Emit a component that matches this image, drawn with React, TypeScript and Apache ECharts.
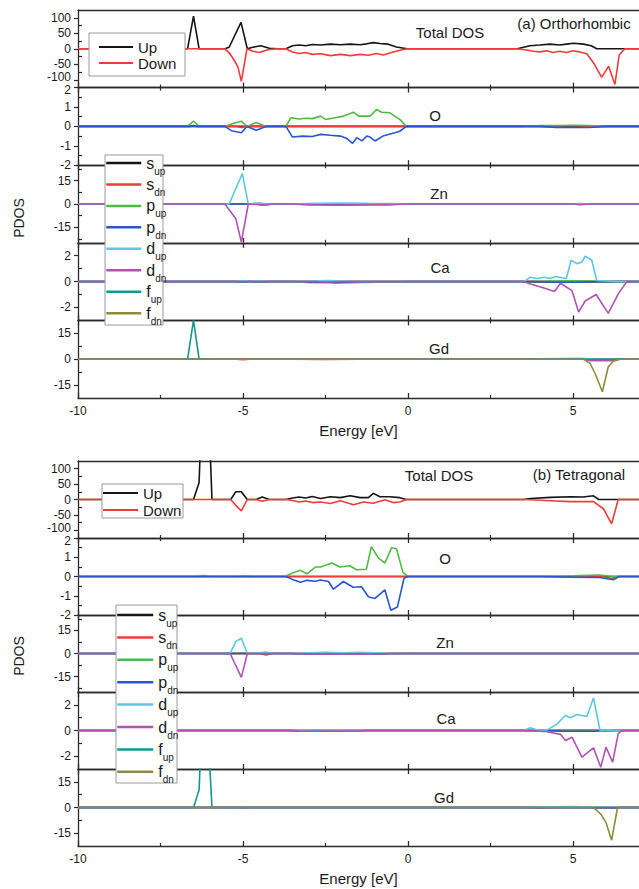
import React, { useEffect, useRef } from 'react';
import * as echarts from 'echarts';

type Pt = [number, number];

// ---------- axis ticks ----------
const energyTicks = [-10, -5, 0, 5];
const energyMinorTicks = [-7.5, -2.5, 2.5];
const totalTicks = [-100, -50, 0, 50, 100];
const totalMinor = [-75, -25, 25, 75];
const oTicks = [-2, -1, 0, 1, 2];
const oMinor = [-1.5, -0.5, 0.5, 1.5];
const znTicks = [-15, 0, 15];
const znMinor = [-22.5, -7.5, 7.5, 22.5];
const caTicks = [-2, 0, 2];
const caMinor = [-1, 1];
const gdTicks = [-15, 0, 15];
const gdMinor = [-7.5, 7.5];

// ---------- panel (a) Orthorhombic ----------
const aTotalUp: Pt[] = [[-10,0],[-6.68,0],[-6.5,105],[-6.33,0],[-5.55,0],[-5.42,5],[-5.06,85],[-4.87,0],[-4.7,5],[-4.46,10],[-4.2,2],[-3.95,0],[-3.7,0],[-3.5,10],[-3.3,12],[-3.1,10],[-2.9,14],[-2.65,12],[-2.35,15],[-2.05,13],[-1.75,15],[-1.45,13],[-1.25,16],[-1.05,20],[-0.85,17],[-0.6,15],[-0.35,6],[-0.03,0],[3.31,0],[3.7,10],[4.0,12],[4.3,15],[4.6,12],[4.8,15],[5.02,18],[5.32,15],[5.55,10],[5.72,0],[7,0]];
const aTotalDown: Pt[] = [[-10,0],[-5.55,0],[-5.4,-15],[-5.25,-40],[-5.15,-60],[-5.05,-105],[-4.88,0],[-4.7,-8],[-4.5,-12],[-4.25,-3],[-4.0,0],[-3.7,0],[-3.5,-10],[-3.3,-15],[-3.1,-12],[-2.9,-18],[-2.65,-16],[-2.35,-22],[-2.05,-18],[-1.75,-22],[-1.45,-18],[-1.2,-21],[-0.95,-15],[-0.75,-20],[-0.5,-12],[-0.3,-6],[-0.03,0],[3.3,0],[3.6,-4],[3.8,-8],[4.0,-10],[4.2,-6],[4.4,-12],[4.6,-8],[4.8,-12],[5.0,-6],[5.2,-10],[5.42,-16],[5.65,-50],[5.87,-92],[6.08,-56],[6.27,-115],[6.4,-20],[6.57,0],[7,0]];

const aO_sUp: Pt[] = [[-10,0],[-6.6,0],[-6.5,0.05],[-6.4,0],[7,0]];
const aO_sDn: Pt[] = [[-10,0],[-5.2,0],[-5.05,-0.05],[-4.9,0],[4,0],[5,-0.04],[5.8,0],[7,0]];
const aO_pUp: Pt[] = [[-10,0],[-6.68,0],[-6.5,0.28],[-6.33,0],[-5.55,0],[-5.3,0.15],[-5.05,0.27],[-4.88,0],[-4.6,0.2],[-4.3,0],[-3.7,0],[-3.55,0.45],[-3.3,0.38],[-3.1,0.42],[-2.9,0.4],[-2.65,0.53],[-2.5,0.36],[-2.25,0.43],[-1.95,0.53],[-1.65,0.73],[-1.5,0.53],[-1.15,0.53],[-0.95,0.87],[-0.8,0.73],[-0.55,0.7],[-0.25,0.36],[-0.05,0],[3.5,0],[4,0.05],[4.5,0.04],[5,0.06],[5.5,0.05],[6,0],[7,0]];
const aO_pDn: Pt[] = [[-10,0],[-5.55,0],[-5.35,-0.22],[-5.05,-0.33],[-4.88,0],[-4.6,-0.2],[-4.3,0],[-3.7,0],[-3.5,-0.55],[-3.2,-0.5],[-2.9,-0.52],[-2.65,-0.41],[-2.35,-0.46],[-2.05,-0.5],[-1.85,-0.63],[-1.68,-0.87],[-1.55,-0.58],[-1.4,-0.75],[-1.25,-0.5],[-1.15,-0.55],[-1.0,-0.75],[-0.76,-0.5],[-0.4,-0.33],[-0.25,-0.25],[-0.05,0],[4,0],[4.5,-0.05],[5,-0.04],[5.5,-0.06],[6,0],[7,0]];

const aZn_sUp: Pt[] = [[-10,0],[7,0]];
const aZn_sDn: Pt[] = [[-10,0],[-4.6,0],[-4.4,-0.8],[-4.2,0],[7,0]];
const aZn_pUp: Pt[] = [[-10,0],[-5.3,0],[-5.05,0.3],[-4.85,0],[-4.5,0.4],[-4.2,0],[7,0]];
const aZn_pDn: Pt[] = [[-10,0],[-3.6,0],[-3.0,-0.4],[-2.4,-0.3],[-1.8,-0.5],[-1.2,-0.3],[-0.6,-0.4],[-0.1,0],[7,0]];
const aZn_dUp: Pt[] = [[-10,0],[-5.42,0],[-5.02,19.6],[-4.84,0],[-4.5,0.6],[-4.3,0],[-3.5,0],[-2.8,0.4],[-2.0,0.6],[-1.2,0.4],[-0.5,0.3],[0,0],[5,0],[5.2,0.3],[5.5,0],[7,0]];
const aZn_dDn: Pt[] = [[-10,0],[-5.55,0],[-5.22,-9.3],[-5.05,-24.6],[-4.84,0],[-4.6,-0.3],[-4.3,-0.8],[-4.1,0],[-3.5,0],[-2.8,-0.5],[-2.0,-0.7],[-1.2,-0.4],[-0.5,-0.3],[0,0],[5,0],[5.2,-0.4],[5.5,0],[7,0]];

const aCa_sUp: Pt[] = [[-10,0],[7,0]];
const aCa_sDn: Pt[] = [[-10,0],[-2.5,0],[-2.2,-0.08],[-1.8,0],[7,0]];
const aCa_pUp: Pt[] = [[-10,0],[3.8,0],[4.3,0.05],[5.0,0.06],[5.6,0.05],[5.8,0],[7,0]];
const aCa_pDn: Pt[] = [[-10,0],[-3.5,0],[-3.0,-0.06],[-2.0,-0.08],[-1.0,-0.05],[0,0],[3.8,0],[4.5,-0.05],[5.2,-0.05],[5.8,0],[7,0]];
const aCa_dUp: Pt[] = [[-10,0],[-5.2,0],[-5.0,0.08],[-4.8,0],[-4.5,0.06],[-4.2,0],[-3.2,0],[-2.8,0.06],[-2.4,0.08],[-2.0,0.05],[-1.6,0],[3.51,0],[3.71,0.34],[3.91,0.24],[4.12,0.34],[4.32,0.24],[4.47,0.4],[4.67,0.3],[4.8,0.24],[4.94,1.65],[5.12,1.39],[5.27,1.52],[5.37,1.96],[5.57,1.65],[5.72,0.08],[6.33,0],[7,0]];
const aCa_dDn: Pt[] = [[-10,0],[-2.8,0],[-2.5,-0.05],[-2.1,0],[3.5,0],[3.71,-0.18],[4.12,-0.5],[4.44,-0.76],[4.62,-0.13],[4.97,-0.7],[5.17,-2.35],[5.37,-1.5],[5.7,-1.0],[6.07,-2.46],[6.37,-0.95],[6.63,0],[7,0]];

const aGd_sUp: Pt[] = [[-10,0],[7,0]];
const aGd_sDn: Pt[] = [[-10,0],[-5.2,0],[-5.0,-0.3],[-4.8,0],[-3.5,0],[-2.5,-0.2],[-1.5,0],[7,0]];
const aGd_pUp: Pt[] = [[-10,0],[7,0]];
const aGd_pDn: Pt[] = [[-10,0],[5.4,0],[5.7,-0.3],[6.2,-0.3],[6.4,0],[7,0]];
const aGd_dUp: Pt[] = [[-10,0],[3.6,0],[4.0,0.3],[4.6,0.4],[5.2,0.5],[5.5,0.2],[5.8,0],[7,0]];
const aGd_dDn: Pt[] = [[-10,0],[5.3,0],[5.5,-0.8],[6.2,-0.8],[6.4,0],[7,0]];
const aGd_fUp: Pt[] = [[-10,0],[-6.68,0],[-6.5,22.5],[-6.33,0],[7,0]];
const aGd_fDn: Pt[] = [[-10,0],[5.32,0],[5.52,-2.5],[5.67,-8.3],[5.89,-18.9],[6.07,-4.4],[6.22,-1.2],[6.42,0],[7,0]];

// ---------- panel (b) Tetragonal ----------
const bTotalUp: Pt[] = [[-10,0],[-6.5,0],[-6.33,55],[-6.22,400],[-6.08,400],[-5.94,0],[-5.37,0],[-5.22,25],[-5.05,25],[-4.87,0],[-4.6,0],[-4.42,8],[-4.2,0],[-3.7,0],[-3.5,5],[-3.3,8],[-3.1,5],[-2.9,10],[-2.65,3],[-2.35,9],[-2.05,6],[-1.75,12],[-1.45,6],[-1.2,6],[-1.05,20],[-0.85,9],[-0.55,9],[-0.25,6],[-0.05,0],[3.5,0],[3.71,3],[4.32,7],[4.92,9],[5.3,8],[5.62,12],[5.78,0],[7,0]];
const bTotalDown: Pt[] = [[-10,0],[-5.37,0],[-5.22,-19],[-5.05,-37],[-4.87,0],[-4.6,0],[-4.42,-6],[-4.2,0],[-3.7,0],[-3.5,-3],[-3.3,-8],[-3.1,-5],[-2.9,-10],[-2.65,-8],[-2.35,-13],[-2.05,-4],[-1.65,-17],[-1.35,-8],[-1.05,-12],[-0.7,-1],[-0.45,-10],[-0.25,-8],[-0.05,0],[3.5,0],[3.71,-1],[4.32,-4],[4.92,-7],[5.62,-7],[5.92,-30],[6.17,-79],[6.37,0],[7,0]];

const bO_sUp: Pt[] = [[-10,0],[7,0]];
const bO_sDn: Pt[] = [[-10,0],[5.9,0],[6.17,-0.1],[6.35,0],[7,0]];
const bO_pUp: Pt[] = [[-10,0],[-6.4,0],[-6.2,0.05],[-6.0,0],[-5.2,0],[-5.0,0.03],[-4.7,0],[-3.73,0],[-3.5,0.18],[-3.26,0.32],[-3.06,0.14],[-2.81,0.49],[-2.65,0.49],[-2.31,0.7],[-2.06,0.49],[-1.76,0.56],[-1.56,0.35],[-1.26,0.38],[-1.11,1.55],[-0.9,0.97],[-0.7,0.7],[-0.5,1.49],[-0.35,1.44],[-0.15,0.2],[0,0],[4,0],[5,0.03],[5.8,0.08],[6.2,0],[7,0]];
const bO_pDn: Pt[] = [[-10,0],[-3.7,0],[-3.5,-0.15],[-3.26,-0.3],[-3.06,-0.2],[-2.81,-0.25],[-2.65,-0.18],[-2.41,-0.26],[-2.26,-0.66],[-1.96,-0.26],[-1.66,-0.56],[-1.41,-0.53],[-1.2,-1.05],[-1.0,-1.14],[-0.7,-0.7],[-0.52,-1.75],[-0.32,-1.58],[-0.12,-0.09],[0,0],[4,0],[5,-0.03],[5.8,-0.05],[6.22,-0.17],[6.4,0],[7,0]];

const bZn_sUp: Pt[] = [[-10,0],[7,0]];
const bZn_sDn: Pt[] = [[-10,0],[-4.5,0],[-4.3,-1],[-4.1,0],[7,0]];
const bZn_pUp: Pt[] = [[-10,0],[-5.3,0],[-5.05,0.3],[-4.87,0],[7,0]];
const bZn_pDn: Pt[] = [[-10,0],[-3.6,0],[-3.0,-0.3],[-2.2,-0.4],[-1.4,-0.3],[-0.6,-0.2],[0,0],[7,0]];
const bZn_dUp: Pt[] = [[-10,0],[-5.39,0],[-5.22,7.7],[-5.05,9.9],[-4.87,0],[-4.5,0.5],[-4.3,1],[-4.1,0],[-3.5,0],[-3.0,0.5],[-2.5,0.8],[-2.0,0.5],[-1.5,0.8],[-1.0,0.4],[-0.5,0],[7,0]];
const bZn_dDn: Pt[] = [[-10,0],[-5.39,0],[-5.05,-15.5],[-4.87,0],[-3.5,0],[-2.8,-0.4],[-2.0,-0.5],[-1.2,-0.4],[-0.5,0],[7,0]];

const bCa_sUp: Pt[] = [[-10,0],[7,0]];
const bCa_sDn: Pt[] = [[-10,0],[5.8,0],[6.0,-0.06],[6.2,0],[7,0]];
const bCa_pUp: Pt[] = [[-10,0],[4.2,0],[4.6,0.05],[5.2,0.06],[5.7,0.05],[5.85,0],[7,0]];
const bCa_pDn: Pt[] = [[-10,0],[4.2,0],[4.6,-0.05],[5.2,-0.06],[5.7,-0.05],[5.85,0],[7,0]];
const bCa_dUp: Pt[] = [[-10,0],[-3.6,0],[-3.3,0.06],[-2.8,0.04],[-2.2,0.06],[-1.6,0.04],[-1.2,0],[3.5,0],[3.71,0.21],[3.96,0],[4.22,0.05],[4.52,0.52],[4.77,1.17],[4.92,0.99],[5.12,1.25],[5.42,1.09],[5.62,2.54],[5.82,0],[7,0]];
const bCa_dDn: Pt[] = [[-10,0],[-3.6,0],[-3.3,-0.05],[-2.8,-0.06],[-2.2,-0.05],[-1.6,-0.04],[-1.2,0],[3.6,0],[4.22,-0.1],[4.62,-0.3],[4.77,-0.78],[4.97,-0.52],[5.27,-2.08],[5.62,-1.35],[5.84,-2.86],[6.0,-1.3],[6.2,-2.47],[6.37,-0.26],[6.47,0],[7,0]];

const bGd_sUp: Pt[] = [[-10,0],[7,0]];
const bGd_sDn: Pt[] = [[-10,0],[-5.2,0],[-5.0,-0.3],[-4.8,0],[3.6,0],[4.0,-0.3],[4.4,0],[7,0]];
const bGd_pUp: Pt[] = [[-10,0],[7,0]];
const bGd_pDn: Pt[] = [[-10,0],[5.5,0],[5.7,-0.4],[6.3,-0.4],[6.4,0],[7,0]];
const bGd_dUp: Pt[] = [[-10,0],[3.5,0],[4.0,0.3],[4.5,0.4],[5.0,0.5],[5.5,0.3],[5.8,0],[7,0]];
const bGd_dDn: Pt[] = [[-10,0],[5.5,0],[5.7,-0.3],[6.2,-0.3],[6.4,0],[7,0]];
const bGd_fUp: Pt[] = [[-10,0],[-6.5,0],[-6.33,10.3],[-6.27,40],[-6.05,40],[-5.94,0],[7,0]];
const bGd_fDn: Pt[] = [[-10,0],[5.62,0],[5.85,-4],[6.0,-8.8],[6.17,-19.1],[6.35,0],[7,0]];

// ---------- styling / layout ----------
const FONT = '"Liberation Sans", Arial, Helvetica, sans-serif';
const TEXT = '#1a1a1a';
const AXIS = '#2b2b2b';
const COLORS: Record<string, string> = {
  Up: '#151515', Down: '#f23a3a',
  s_up: '#151515', s_dn: '#f23a3a', p_up: '#4fba45', p_dn: '#2a56c8',
  d_up: '#5cc8e2', d_dn: '#b252b2', f_up: '#16968f', f_dn: '#8c8c3c',
};
const ORBITALS = ['s_up', 's_dn', 'p_up', 'p_dn', 'd_up', 'd_dn', 'f_up', 'f_dn'];

type Sub = { label: string; min: number; max: number; ticks: number[]; minor: number[]; series: [string, Pt[]][] };

const panelA: Sub[] = [
  { label: 'Total DOS', min: -125, max: 125, ticks: totalTicks, minor: totalMinor, series: [['Up', aTotalUp], ['Down', aTotalDown]] },
  { label: 'O', min: -2, max: 2, ticks: oTicks, minor: oMinor, series: [['s_up', aO_sUp], ['s_dn', aO_sDn], ['p_up', aO_pUp], ['p_dn', aO_pDn]] },
  { label: 'Zn', min: -25, max: 25, ticks: znTicks, minor: znMinor, series: [['s_up', aZn_sUp], ['s_dn', aZn_sDn], ['p_up', aZn_pUp], ['p_dn', aZn_pDn], ['d_up', aZn_dUp], ['d_dn', aZn_dDn]] },
  { label: 'Ca', min: -3, max: 3, ticks: caTicks, minor: caMinor, series: [['s_up', aCa_sUp], ['s_dn', aCa_sDn], ['p_up', aCa_pUp], ['p_dn', aCa_pDn], ['d_up', aCa_dUp], ['d_dn', aCa_dDn]] },
  { label: 'Gd', min: -22.5, max: 22.5, ticks: gdTicks, minor: gdMinor, series: [['s_up', aGd_sUp], ['s_dn', aGd_sDn], ['p_up', aGd_pUp], ['p_dn', aGd_pDn], ['d_up', aGd_dUp], ['d_dn', aGd_dDn], ['f_up', aGd_fUp], ['f_dn', aGd_fDn]] },
];
const panelB: Sub[] = [
  { label: 'Total DOS', min: -125, max: 125, ticks: totalTicks, minor: totalMinor, series: [['Up', bTotalUp], ['Down', bTotalDown]] },
  { label: 'O', min: -2, max: 2, ticks: oTicks, minor: oMinor, series: [['s_up', bO_sUp], ['s_dn', bO_sDn], ['p_up', bO_pUp], ['p_dn', bO_pDn]] },
  { label: 'Zn', min: -25, max: 25, ticks: znTicks, minor: znMinor, series: [['s_up', bZn_sUp], ['s_dn', bZn_sDn], ['p_up', bZn_pUp], ['p_dn', bZn_pDn], ['d_up', bZn_dUp], ['d_dn', bZn_dDn]] },
  { label: 'Ca', min: -3, max: 3, ticks: caTicks, minor: caMinor, series: [['s_up', bCa_sUp], ['s_dn', bCa_sDn], ['p_up', bCa_pUp], ['p_dn', bCa_pDn], ['d_up', bCa_dUp], ['d_dn', bCa_dDn]] },
  { label: 'Gd', min: -22.5, max: 22.5, ticks: gdTicks, minor: gdMinor, series: [['s_up', bGd_sUp], ['s_dn', bGd_sDn], ['p_up', bGd_pUp], ['p_dn', bGd_pDn], ['d_up', bGd_dUp], ['d_dn', bGd_dDn], ['f_up', bGd_fUp], ['f_dn', bGd_fDn]] },
];

const layouts = [
  {
    subs: panelA, tops: [10, 87.6, 165.2, 242.8, 320.4], h: 77.6,
    title: '(a) Orthorhombic', titlePos: [574, 23],
    labelPos: [[450, 32], [435, 115], [439, 193], [440, 267], [439, 348]],
    pdosPos: [19, 218],
    udLegend: { left: 98, top: 39, w: 34, gap: 0, box: [89, 33, 96, 43] },
    orbLegend: { left: 105, top: 155, w: 35, gap: 0.45, box: [105, 155, 58, 170] },
  },
  {
    subs: panelB, tops: [461, 538, 615, 692, 769], h: 77,
    title: '(b) Tetragonal', titlePos: [579, 474],
    labelPos: [[439, 475], [445, 558], [445, 642], [446, 718], [444, 797]],
    pdosPos: [19, 656],
    udLegend: { left: 102, top: 485, w: 35, gap: 1, box: [102, 484, 81, 34] },
    orbLegend: { left: 116, top: 607, w: 36, gap: 1.4, box: [116, 605, 61, 178] },
  },
];

const LABEL_STYLE = { fontSize: 12, color: TEXT, fontFamily: FONT };

function buildOption() {
  const grid: any[] = [];
  const xAxis: any[] = [];
  const yAxis: any[] = [];
  const series: any[] = [];
  const graphic: any[] = [];
  const legend: any[] = [];

  layouts.forEach((L) => {
    L.subs.forEach((sp, k) => {
      const g = grid.length;
      const first = k === 0;
      const last = k === L.subs.length - 1;
      grid.push({ left: 78, right: -2, top: L.tops[k], height: L.h });
      const base = { type: 'value', gridIndex: g, min: -10, max: 7, splitLine: { show: false } };
      const line = { show: true, onZero: false, lineStyle: { color: AXIS, width: 1.3 } };
      const noLine = { show: false, onZero: false };
      xAxis.push({
        ...base, position: 'bottom', axisLine: line,
        axisTick: { show: true, inside: true, length: 5, customValues: energyTicks, lineStyle: { color: AXIS, width: 1.3 } },
        axisLabel: { show: last, customValues: energyTicks, ...LABEL_STYLE, margin: 7 },
        name: last ? 'Energy [eV]' : '', nameLocation: 'middle', nameGap: 25,
        nameTextStyle: { fontSize: 15, color: TEXT, fontFamily: FONT },
      });
      xAxis.push({
        ...base, position: 'bottom', axisLine: noLine,
        axisTick: { show: true, inside: true, length: 3, customValues: energyMinorTicks, lineStyle: { color: AXIS, width: 1.2 } },
        axisLabel: { show: false },
      });
      xAxis.push({
        ...base, position: 'top', axisLine: line,
        axisTick: { show: !first, inside: true, length: 5, customValues: energyTicks, lineStyle: { color: AXIS, width: 1.3 } },
        axisLabel: { show: false },
      });
      xAxis.push({
        ...base, position: 'top', axisLine: noLine,
        axisTick: { show: !first, inside: true, length: 3, customValues: energyMinorTicks, lineStyle: { color: AXIS, width: 1.2 } },
        axisLabel: { show: false },
      });
      const yBase = { type: 'value', gridIndex: g, min: sp.min, max: sp.max, position: 'left', splitLine: { show: false } };
      const topVal = sp.ticks[sp.ticks.length - 1];
      const botVal = sp.ticks[0];
      yAxis.push({
        ...yBase, axisLine: line,
        axisTick: { show: true, inside: false, length: 4, customValues: sp.ticks, lineStyle: { color: AXIS, width: 1.2 } },
        axisLabel: {
          show: true, customValues: sp.ticks, ...LABEL_STYLE, margin: 7,
          formatter: (v: number) => {
            if (!first && v === topVal && topVal === sp.max) return `{lo|${v}}`;
            if (first && v === botVal) return `{hi|${v}}`;
            return `${v}`;
          },
          rich: {
            lo: { ...LABEL_STYLE, padding: [5, 0, 0, 0] },
            hi: { ...LABEL_STYLE, padding: [0, 0, 5, 0] },
          },
        },
      });
      yAxis.push({
        ...yBase, axisLine: noLine,
        axisTick: { show: true, inside: true, length: 4, customValues: sp.minor, lineStyle: { color: AXIS, width: 1.2 } },
        axisLabel: { show: false },
      });
      sp.series.forEach(([name, data]) => {
        series.push({
          type: 'line', name, data, xAxisIndex: g * 4, yAxisIndex: g * 2,
          symbol: 'none', showSymbol: false, clip: true, silent: true,
          lineStyle: { color: COLORS[name], width: 1.6 },
          itemStyle: { color: COLORS[name] },
        });
      });
      graphic.push({
        type: 'text', x: L.labelPos[k][0], y: L.labelPos[k][1], z: 5,
        style: { text: sp.label, fontSize: 15, fill: TEXT, fontFamily: FONT, align: 'center', verticalAlign: 'middle' },
      });
    });

    graphic.push({
      type: 'text', x: L.titlePos[0], y: L.titlePos[1], z: 5,
      style: { text: L.title, fontSize: 15, fill: TEXT, fontFamily: FONT, align: 'center', verticalAlign: 'middle' },
    });
    graphic.push({
      type: 'text', x: L.pdosPos[0], y: L.pdosPos[1], rotation: Math.PI / 2, z: 5,
      style: { text: 'PDOS', fontSize: 14, fill: TEXT, fontFamily: FONT, align: 'center', verticalAlign: 'middle' },
    });
    for (const lg of [L.udLegend, L.orbLegend]) {
      graphic.push({
        type: 'rect', z: 6,
        shape: { x: lg.box[0], y: lg.box[1], width: lg.box[2], height: lg.box[3] },
        style: { fill: '#ffffff', stroke: '#9a9a9a', lineWidth: 1 },
      });
    }
    legend.push({
      show: true, data: ['Up', 'Down'], orient: 'vertical',
      left: L.udLegend.left, top: L.udLegend.top, itemWidth: L.udLegend.w, itemHeight: 14, itemGap: L.udLegend.gap,
      padding: 0, selectedMode: false, z: 10, lineStyle: { width: 2 },
      itemStyle: { opacity: 0, borderWidth: 0 },
      textStyle: { fontSize: 15, lineHeight: 16, color: TEXT, fontFamily: FONT },
    });
    legend.push({
      show: true, data: ORBITALS, orient: 'vertical',
      left: L.orbLegend.left, top: L.orbLegend.top, itemWidth: L.orbLegend.w, itemHeight: 14, itemGap: L.orbLegend.gap,
      padding: 0, selectedMode: false, z: 10, lineStyle: { width: 2.5 },
      itemStyle: { opacity: 0, borderWidth: 0 },
      formatter: (name: string) => {
        const [b, s] = name.split('_');
        return `{m|${b}}{s|${s}}`;
      },
      textStyle: {
        color: TEXT, fontFamily: FONT,
        rich: {
          m: { fontSize: 16, lineHeight: 26, color: TEXT, fontFamily: FONT },
          s: { fontSize: 10, lineHeight: 10, verticalAlign: 'bottom', color: TEXT, fontFamily: FONT },
        },
      },
    });
  });

  return {
    animation: false,
    backgroundColor: '#ffffff',
    textStyle: { fontFamily: FONT },
    grid, xAxis, yAxis, series, graphic, legend,
  };
}

export default function App() {
  const ref = useRef<HTMLDivElement>(null);
  useEffect(() => {
    if (!ref.current) return;
    const chart = echarts.init(ref.current, undefined, { renderer: 'svg' });
    chart.setOption(buildOption() as any);
    return () => chart.dispose();
  }, []);
  return <div ref={ref} style={{ position: 'absolute', left: 0, top: 0, width: 639, height: 889 }} />;
}
